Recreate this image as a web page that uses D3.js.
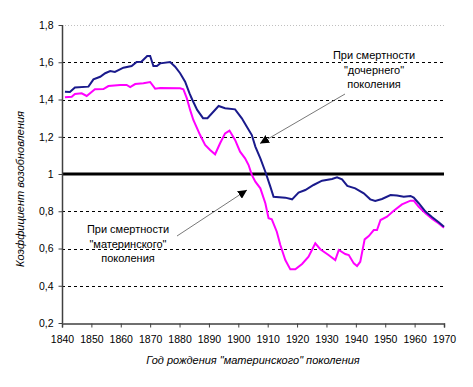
<!DOCTYPE html>
<html>
<head>
<meta charset="utf-8">
<script src="https://cdn.jsdelivr.net/npm/d3@7"></script>
<style>
  body { margin: 0; background: #fff; }
  text { font-family: Arial, "Liberation Sans", sans-serif; }
</style>
</head>
<body>
<div id="chart"></div>
<script>
// Коэффициент возобновления при смертности "дочернего" поколения
var dochYears = [1841, 1842.7, 1844.4, 1849, 1850.7, 1853, 1854.7, 1856.4, 1858, 1860.9, 1863.7, 1865.4, 1867, 1869, 1870,
  1871.1, 1872.3, 1873.4, 1876.8, 1878.5, 1880.2, 1881.9, 1883.4, 1884.3, 1886, 1888, 1889.5, 1893.3, 1895.5, 1898.9,
  1901.2, 1902.9, 1904.6, 1905.8, 1907.5, 1909.2, 1910.9, 1912, 1916, 1918.3, 1920.5, 1922.8, 1925.6, 1928.5, 1931.9,
  1933.6, 1935.3, 1937.1, 1939.8, 1942.7, 1944.9, 1946.6, 1948.9, 1951.8, 1954, 1956.3, 1958.6, 1959.7, 1961.4, 1963.7,
  1966, 1968.2, 1970];
var dochVals = [1.442, 1.44, 1.465, 1.469, 1.508, 1.522, 1.541, 1.553, 1.548, 1.571, 1.58, 1.601, 1.603, 1.634, 1.634,
  1.58, 1.58, 1.594, 1.601, 1.576, 1.541, 1.496, 1.433, 1.40, 1.344, 1.30, 1.30, 1.365, 1.353, 1.347,
  1.299, 1.254, 1.209, 1.147, 1.084, 1.012, 0.932, 0.878, 0.873, 0.864, 0.90, 0.914, 0.941, 0.964, 0.973,
  0.982, 0.971, 0.936, 0.923, 0.896, 0.864, 0.855, 0.866, 0.887, 0.884, 0.878, 0.882, 0.873, 0.843, 0.798,
  0.768, 0.741, 0.717];

// при смертности "материнского" поколения
var matYears = [1841, 1843.3, 1844.4, 1846.7, 1848.4, 1851.2, 1854.1, 1855.8, 1859.8, 1862, 1863.2, 1864.9, 1867.7, 1870,
  1871.7, 1873.4, 1880.2, 1881.3, 1882.5, 1883.6, 1884.7, 1887, 1888.7, 1890.4, 1892.1, 1893.8, 1895.5, 1897, 1898.9,
  1900.6, 1902.3, 1903.5, 1904.6, 1905.8, 1907.5, 1909.2, 1910.3, 1911.4, 1913.1, 1914.3, 1916, 1917.7, 1919.4, 1921.7,
  1923.9, 1926.2, 1927.9, 1930.7, 1933, 1934.2, 1936.4, 1937.6, 1939.3, 1940.4, 1941.5, 1943, 1944.4, 1946.1, 1947.2,
  1948.4, 1950.6, 1952.9, 1955.7, 1958.6, 1959.7, 1961.4, 1963.7, 1966, 1968.2, 1970];
var matVals = [1.412, 1.415, 1.43, 1.433, 1.419, 1.455, 1.456, 1.472, 1.478, 1.478, 1.467, 1.483, 1.487, 1.494,
  1.458, 1.462, 1.46, 1.455, 1.406, 1.344, 1.29, 1.209, 1.156, 1.129, 1.106, 1.165, 1.218, 1.233, 1.183,
  1.12, 1.084, 1.048, 0.995, 0.959, 0.923, 0.843, 0.762, 0.757, 0.69, 0.619, 0.538, 0.488, 0.488, 0.517,
  0.556, 0.628, 0.596, 0.565, 0.538, 0.592, 0.57, 0.565, 0.52, 0.506, 0.529, 0.649, 0.667, 0.699, 0.699,
  0.753, 0.771, 0.803, 0.837, 0.857, 0.857, 0.824, 0.789, 0.758, 0.735, 0.712];

var yTicks = [0.2, 0.4, 0.6, 0.8, 1, 1.2, 1.4, 1.6, 1.8];
var xTicks = [1840, 1850, 1860, 1870, 1880, 1890, 1900, 1910, 1920, 1930, 1940, 1950, 1960, 1970];

var w = 473;
var h = 387;

var svg = d3.select("#chart")
            .append("svg")
            .attr("width", w)
            .attr("height", h);

var x = d3.scaleLinear().domain([1840, 1970]).range([62, 444]);
var y = d3.scaleLinear().domain([0.2, 1.8]).range([323, 25]);

var fmt = function(d) { return String(d).replace(".", ","); };

// сетка
svg.selectAll("line.grid")
   .data(yTicks.filter(function(d) { return d !== 0.2 && d !== 1; }))
   .enter()
   .append("line")
   .attr("class", "grid")
   .attr("x1", x(1840))
   .attr("x2", x(1970))
   .attr("y1", function(d) { return Math.round(y(d)) + 0.5; })
   .attr("y2", function(d) { return Math.round(y(d)) + 0.5; })
   .attr("stroke", function(d) { return d === 1.8 ? "#c0c0c0" : "#000"; })
   .attr("stroke-dasharray", function(d) { return d === 1.8 ? "1,2" : "3,3"; });

// линия 1
svg.append("line")
   .attr("x1", x(1840))
   .attr("x2", x(1970))
   .attr("y1", y(1))
   .attr("y2", y(1))
   .attr("stroke", "#000")
   .attr("stroke-width", 3);

// оси
var yAxis = svg.append("g")
   .attr("transform", "translate(" + (x(1840) + 0.5) + ",0)")
   .call(d3.axisLeft(y).tickValues(yTicks).tickSize(4).tickPadding(5).tickFormat(fmt));
var xAxis = svg.append("g")
   .attr("transform", "translate(0," + (y(0.2) + 0.5) + ")")
   .call(d3.axisBottom(x).tickValues(xTicks).tickSize(4).tickPadding(8).tickFormat(d3.format("d")));

[yAxis, xAxis].forEach(function(g) {
  g.select(".domain").attr("stroke", "#404040").attr("stroke-width", 1.5);
  g.selectAll(".tick line").attr("stroke", "#404040");
  g.selectAll("text").attr("font-size", "10.5px").attr("fill", "#000")
   .attr("font-family", "Arial, 'Liberation Sans', sans-serif");
});
yAxis.select(".domain").attr("d", "M0," + y(1.8) + "V" + y(0.2));

// линии
var line = d3.line()
   .x(function(d) { return x(d[0]); })
   .y(function(d) { return y(d[1]); });

svg.append("path")
   .datum(d3.zip(matYears, matVals))
   .attr("d", line)
   .attr("fill", "none")
   .attr("stroke", "#ff00ff")
   .attr("stroke-width", 2);

svg.append("path")
   .datum(d3.zip(dochYears, dochVals))
   .attr("d", line)
   .attr("fill", "none")
   .attr("stroke", "#1a1a8c")
   .attr("stroke-width", 2);

// стрелки
svg.append("defs").append("marker")
   .attr("id", "arr")
   .attr("viewBox", "0 0 10 10")
   .attr("refX", 10).attr("refY", 5)
   .attr("markerWidth", 9).attr("markerHeight", 9)
   .attr("markerUnits", "userSpaceOnUse")
   .attr("orient", "auto")
   .append("path")
   .attr("d", "M0,0L10,5L0,10z")
   .attr("fill", "#000");

var notes = [
  { lines: ["При смертности", "\"дочернего\"", "поколения"], tx: 374, ty: 59, from: [345, 94], to: [260, 143.5] },
  { lines: ["При смертности", "\"материнского\"", "поколения"], tx: 128, ty: 233, from: [177, 236], to: [247, 190] }
];

notes.forEach(function(n) {
  svg.append("line")
     .attr("x1", n.from[0]).attr("y1", n.from[1])
     .attr("x2", n.to[0]).attr("y2", n.to[1])
     .attr("stroke", "#555")
     .attr("stroke-width", 0.8)
     .attr("marker-end", "url(#arr)");
  svg.append("text")
     .attr("text-anchor", "middle")
     .attr("font-size", "11px")
     .selectAll("tspan")
     .data(n.lines)
     .enter()
     .append("tspan")
     .attr("x", n.tx)
     .attr("y", function(d, i) { return n.ty + i * 14.5; })
     .text(function(d) { return d; });
});

// подписи осей
svg.append("text")
   .attr("x", (x(1840) + x(1970)) / 2)
   .attr("y", 364)
   .attr("text-anchor", "middle")
   .attr("font-size", "11px")
   .attr("font-style", "italic")
   .text("Год рождения \"материнского\" поколения");

svg.append("text")
   .attr("transform", "translate(24,189) rotate(-90)")
   .attr("text-anchor", "middle")
   .attr("font-size", "11px")
   .attr("font-style", "italic")
   .text("Коэффициент возобновления");
</script>
</body>
</html>
